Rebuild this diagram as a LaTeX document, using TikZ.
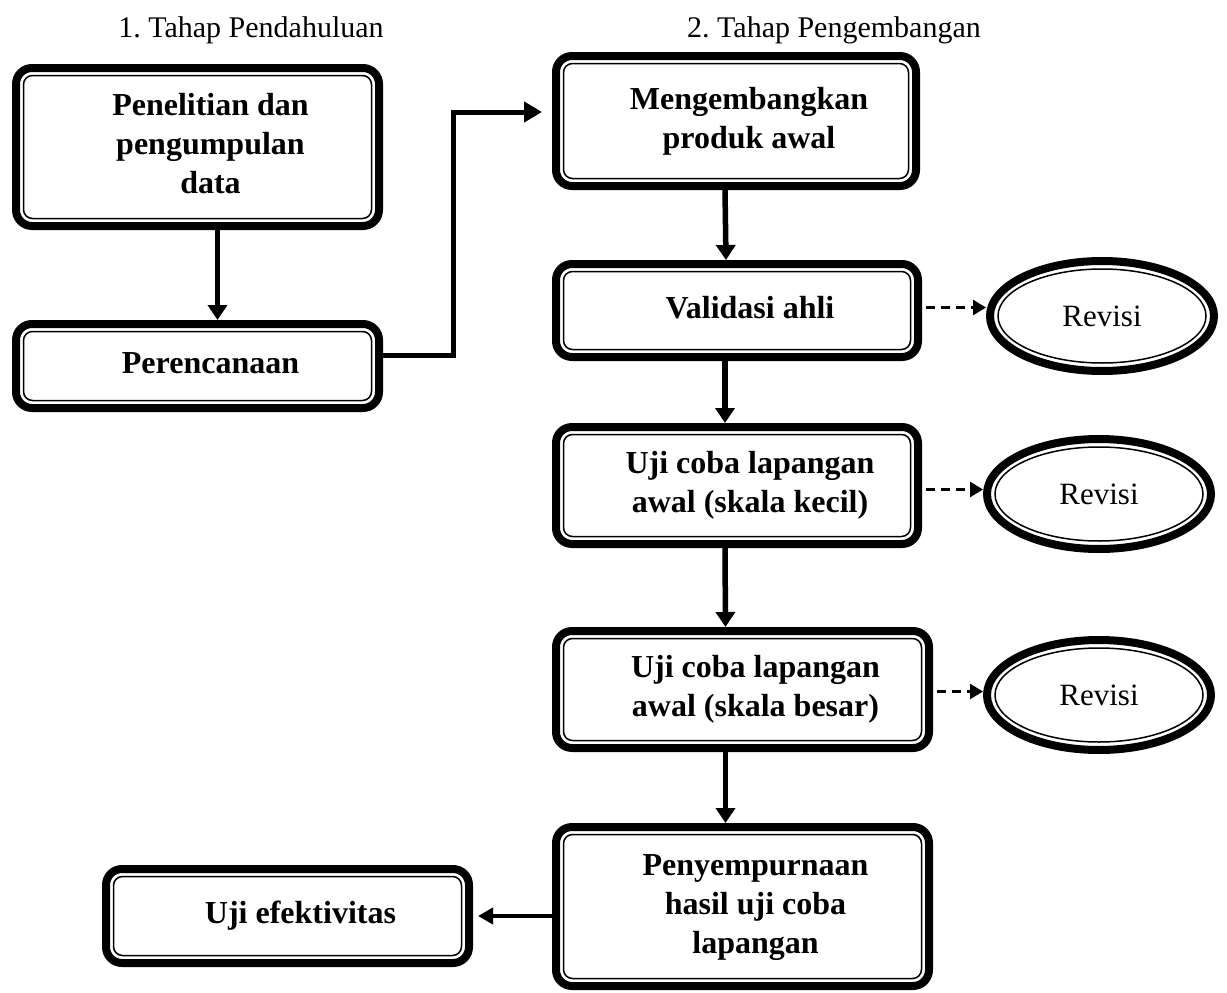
\documentclass[tikz,border=0pt]{standalone}
\usepackage{fontspec}
\setmainfont{Liberation Serif}
\usetikzlibrary{shapes.geometric,arrows.meta}
\newcommand{\isikotak}[1]{\hspace*{26pt}\begin{tabular}{@{}c@{}}#1\end{tabular}}

\begin{document}
\begin{tikzpicture}[x=1pt,y=-1pt,
    tahap/.style={draw,line width=8pt,rounded corners=16pt,inner sep=0pt,
      font=\fontsize{32}{39}\selectfont\bfseries},
    revisi/.style={draw,ellipse,line width=8pt,inner sep=0pt,minimum width=224pt,minimum height=110pt,
      font=\fontsize{31}{37}\selectfont},
    garisdalam/.style={draw,line width=1.5pt},
    panah/.style={line width=5.5pt,-{Triangle[width=19pt,length=15pt]}},
    putus/.style={line width=2.6pt,dash pattern=on 9pt off 6pt,-{Triangle[width=15pt,length=13pt]}}]
  \useasboundingbox (0,0) rectangle (1227,993);
  % judul tahap
  \node[font=\fontsize{30}{37}\selectfont] (judul1) at (251,30) {1.\ Tahap Pendahuluan};
  \node[font=\fontsize{30}{37}\selectfont] (judul2) at (834,30) {2.\ Tahap Pengembangan};
  % tahap pendahuluan
  \node[tahap,minimum width=363pt,minimum height=158pt] (pen) at (197.5,147) {\isikotak{Penelitian dan\\pengumpulan\\data}};
  \node[tahap,minimum width=363pt,minimum height=84pt] (ren) at (197.5,366) {\isikotak{Perencanaan}};
  % tahap pengembangan
  \node[tahap,minimum width=360pt,minimum height=130pt] (mng) at (736,121) {\isikotak{Mengembangkan\\produk awal}};
  \node[tahap,minimum width=362pt,minimum height=93pt] (val) at (737,310.5) {\isikotak{Validasi ahli}};
  \node[tahap,minimum width=362pt,minimum height=117pt] (ujk) at (737,485.5) {\isikotak{Uji coba lapangan\\awal (skala kecil)}};
  \node[tahap,minimum width=373pt,minimum height=117pt] (ujb) at (742.5,689.5) {\isikotak{Uji coba lapangan\\awal (skala besar)}};
  \node[tahap,minimum width=373pt,minimum height=159pt] (pny) at (742.5,906.5) {\isikotak{Penyempurnaan\\hasil uji coba\\lapangan}};
  \node[tahap,minimum width=363pt,minimum height=94pt] (uje) at (287.5,916) {\isikotak{Uji efektivitas}};
  \node[revisi] (rv1) at (1102,316) {Revisi};
  \node[revisi] (rv2) at (1099,494) {Revisi};
  \node[revisi] (rv3) at (1099,695) {Revisi};
  % garis tipis bagian dalam
  \foreach \n in {pen,ren,mng,val,ujk,ujb,pny,uje}
    \draw[garisdalam,rounded corners=9pt] ([shift={(11.5pt,-11.5pt)}]\n.north west) rectangle ([shift={(-11.5pt,11.5pt)}]\n.south east);
  \foreach \n in {rv1,rv2,rv3}
    \draw[garisdalam] (\n.center) ellipse [x radius=104, y radius=47];
  % panah
  \draw[panah] ([xshift=20pt]pen.south) -- ([xshift=20pt]ren.north);
  \draw[panah,line width=5pt,-{Triangle[width=20pt,length=18pt]}] ([yshift=11pt]ren.east) -- ++(70,0) |- ([xshift=-10pt,yshift=9pt]mng.west);
  \draw[panah] ([xshift=-11pt]mng.south) -- ([xshift=-11pt]val.north);
  \draw[panah] ([xshift=-12pt]val.south) -- ([xshift=-12pt]ujk.north);
  \draw[panah] ([xshift=-12pt]ujk.south) -- ([xshift=-17pt]ujb.north);
  \draw[panah] ([xshift=-17pt]ujb.south) -- ([xshift=-17pt]pny.north);
  \draw[panah,line width=4pt,-{Triangle[width=16pt,length=15pt]}] (pny.west |- uje.east) -- ([xshift=5pt]uje.east);
  \draw[putus] ([xshift=4pt,yshift=3pt]val.east) -- ([yshift=3pt]rv1.west |- val.east);
  \draw[putus] ([xshift=4pt,yshift=-4pt]ujk.east) -- ([yshift=-4pt]rv2.west |- ujk.east);
  \draw[putus] ([xshift=4pt,yshift=-2pt]ujb.east) -- ([yshift=-2pt]rv3.west |- ujb.east);
\end{tikzpicture}
\end{document}
